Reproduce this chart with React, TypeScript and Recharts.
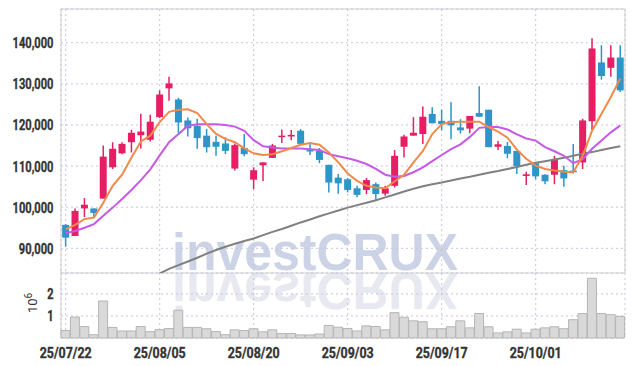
import React from "react";
import { ComposedChart, Bar, Line, XAxis, YAxis, CartesianGrid } from "recharts";

const dates = [
  "25/07/22", "25/07/23", "25/07/24", "25/07/25", "25/07/28", "25/07/29", "25/07/30", "25/07/31",
  "25/08/01", "25/08/04", "25/08/05", "25/08/06", "25/08/07", "25/08/08", "25/08/11", "25/08/12",
  "25/08/13", "25/08/14", "25/08/18", "25/08/19", "25/08/20", "25/08/21", "25/08/22", "25/08/25",
  "25/08/26", "25/08/27", "25/08/28", "25/08/29", "25/09/01", "25/09/02", "25/09/03", "25/09/04",
  "25/09/05", "25/09/08", "25/09/09", "25/09/10", "25/09/11", "25/09/12", "25/09/15", "25/09/16",
  "25/09/17", "25/09/18", "25/09/19", "25/09/22", "25/09/23", "25/09/24", "25/09/25", "25/09/26",
  "25/09/29", "25/09/30", "25/10/01", "25/10/02", "25/10/10", "25/10/13", "25/10/14", "25/10/15",
  "25/10/16", "25/10/17", "25/10/20", "25/10/21",
];

const openP = [
  95700, 93000, 99700, 99700, 102100, 109700, 113100, 115800, 117500, 116400,
  121900, 128900, 126200, 121100, 119800, 117400, 115900, 115500, 109400, 114400,
  106700, 110200, 112000, 117200, 117200, 118600, 113900, 113700, 110300, 107200,
  106800, 104600, 104200, 105600, 103300, 105200, 114700, 117400, 117800, 122700,
  121000, 121000, 119400, 119100, 122900, 123700, 114700, 114900, 113700, 107600,
  110700, 107900, 107900, 109000, 108900, 110900, 120900, 135200, 133900, 136400,
];
const closeP = [
  92600, 99100, 100600, 98600, 112300, 114200, 115400, 118100, 118400, 120800,
  127400, 130100, 120600, 119200, 116800, 114600, 114700, 113700, 115100, 112900,
  109000, 110900, 115000, 117400, 117600, 115400, 113700, 111500, 106000, 105800,
  104200, 103000, 106600, 103200, 104600, 112500, 117200, 118100, 122000, 120400,
  120200, 119900, 118700, 122200, 122000, 114600, 115300, 113000, 110000, 108000,
  107500, 106300, 111500, 107000, 108500, 121100, 138600, 131900, 136400, 128400,
];
const highP = [
  95900, 99700, 102200, 99700, 115000, 115800, 115800, 118800, 122700, 122500,
  128400, 131700, 126600, 121800, 121500, 119000, 117400, 117000, 115500, 117800,
  109700, 110900, 115400, 118900, 118800, 119000, 115800, 114400, 110300, 108100,
  107100, 105200, 107100, 106000, 105200, 113900, 117600, 121900, 124500, 124300,
  123700, 125500, 121400, 122200, 129400, 123700, 116100, 115900, 113700, 108600,
  110700, 108000, 112500, 110100, 115400, 121500, 141100, 139400, 139400, 139400,
];
const lowP = [
  90400, 93000, 97600, 97500, 102100, 109300, 112900, 113300, 114300, 116000,
  121700, 125900, 118000, 117200, 114200, 113300, 112500, 112900, 108900, 112400,
  104400, 106400, 112000, 115600, 116300, 115400, 112700, 110700, 103600, 103300,
  103600, 102400, 103200, 101800, 102800, 104800, 112100, 117400, 115400, 120400,
  118700, 116500, 117900, 118000, 122000, 114600, 113900, 111900, 108100, 105400,
  106800, 105600, 105600, 105000, 108200, 109300, 118700, 131000, 131700, 128000,
];

const ma5 = [
  94600, 95700, 97100, 97500, 101100, 105200, 107900, 112100, 116000, 117400,
  120700, 123200, 123700, 123800, 122900, 120200, 117800, 116600, 115800, 114300,
  113100, 112700, 112900, 113600, 114400, 115200, 115600, 115200, 113300, 110900,
  108200, 106400, 105200, 104800, 104600, 106300, 107900, 110900, 113700, 117800,
  120200, 120700, 120800, 120800, 120800, 119500, 118400, 116900, 114000, 111800,
  110100, 109300, 108900, 108600, 108500, 112500, 118600, 122700, 126800, 131300,
];
const ma20 = [
  93700, 94200, 95000, 95900, 97900, 99900, 102000, 104200, 106600, 109200,
  112600, 115800, 117800, 119800, 120200, 120200, 120200, 120000, 119600, 118600,
  116300, 114800, 114500, 114300, 114300, 114300, 114100, 113900, 112900, 112400,
  111900, 111300, 110500, 109300, 107900, 107400, 107600, 108500, 109700, 111200,
  112700, 114100, 115300, 117100, 119300, 119500, 119500, 118900, 117700, 116700,
  116200, 114600, 113600, 112500, 110700, 111700, 114200, 116200, 118200, 119900,
];
const ma60 = [
  null, null, null, null, null, null, null, null, null, null,
  83900, 85000, 85900, 86800, 87700, 88700, 89600, 90400, 91100, 91800,
  92400, 93200, 94000, 94700, 95500, 96300, 97000, 97800, 98500, 99200,
  99900, 100500, 101100, 101700, 102400, 103100, 103800, 104500, 105100, 105600,
  106000, 106500, 107000, 107400, 107900, 108400, 108800, 109300, 109800, 110300,
  110800, 111200, 111600, 112000, 112500, 113000, 113400, 113900, 114400, 114800,
];

const volumeM = [
  0.34, 0.95, 0.52, 0.15, 1.68, 0.48, 0.32, 0.32, 0.52, 0.29,
  0.38, 0.43, 1.26, 0.48, 0.48, 0.42, 0.29, 0.15, 0.37, 0.34,
  0.42, 0.28, 0.37, 0.2, 0.2, 0.14, 0.14, 0.18, 0.57, 0.49,
  0.43, 0.32, 0.55, 0.52, 0.37, 1.15, 0.94, 0.78, 0.74, 0.42,
  0.42, 0.51, 0.78, 0.46, 1.11, 0.51, 0.23, 0.28, 0.4, 0.23,
  0.4, 0.46, 0.51, 0.42, 0.83, 1.11, 2.71, 1.11, 1.06, 0.98,
];

const priceTicks = [90000, 100000, 110000, 120000, 130000, 140000];
const volumeTicks = [1000000, 2000000];

const rows = dates.map((d, i) => ({
  date: d,
  open: openP[i],
  close: closeP[i],
  high: highP[i],
  low: lowP[i],
  range: [lowP[i], highP[i]],
  ma5: ma5[i],
  ma20: ma20[i],
  ma60: ma60[i],
  volume: volumeM[i] * 1000000,
}));

const UP = "#e61e64";
const DOWN = "#2e95c8";
const GRID = "#c6c6dc";
const BORDER = "#d0d0d0";
const FONT = "Roboto, 'DejaVu Sans', sans-serif";

// condensed look: squeeze the glyphs to the width the reference uses
function labelWidth(s: string) {
  let w = 0;
  for (const ch of s) w += /[0-9]/.test(ch) ? 6.3 : 3.2;
  return w;
}

function YTick(props: any) {
  const { y, payload, fmt } = props;
  const s = fmt(payload.value);
  return (
    <text x={53.5} y={y} dy={5.5} textAnchor="end" fontFamily={FONT} fontSize={15} fontWeight={700}
      fill="#333" stroke="#333" strokeWidth={0.35} textLength={labelWidth(s)} lengthAdjust="spacingAndGlyphs">
      {s}
    </text>
  );
}

function XTick(props: any) {
  const { x, y, payload } = props;
  const s = String(payload.value);
  return (
    <text x={x} y={y} dy={12} textAnchor="middle" fontFamily={FONT} fontSize={15} fontWeight={700}
      fill="#333" stroke="#333" strokeWidth={0.35} textLength={52} lengthAdjust="spacingAndGlyphs">
      {s}
    </text>
  );
}

function Candle(props: any) {
  const { x, y, width, height, payload } = props;
  if (x == null || y == null) return null;
  const top = Math.min(y, y + height);
  const h = Math.abs(height);
  const { open, close, high, low } = payload;
  const span = high - low || 1;
  const py = (v: number) => top + ((high - v) / span) * h;
  const color = close >= open ? UP : DOWN;
  const bTop = py(Math.max(open, close));
  const bBot = py(Math.min(open, close));
  const cx = x + width / 2;
  return (
    <g>
      <line x1={cx} x2={cx} y1={top} y2={top + h} stroke={color} strokeWidth={1.5} />
      <rect x={x} y={bTop} width={width} height={Math.max(bBot - bTop, 1.5)} fill={color} />
    </g>
  );
}

const priceFmt = (v: number) => v.toLocaleString("en-US");
const volFmt = (v: number) => String(v / 1000000);

export default function App() {
  return (
    <div style={{ position: "absolute", left: 0, top: 0, width: 634, height: 366, background: "#fff" }}>
      <svg width={634} height={366} style={{ position: "absolute", left: 0, top: 0 }}>
        <text x={172} y={270} fontFamily="'Liberation Sans', Arial, sans-serif" fontWeight={700} fontSize={51}
          fill="#cdd3e6" textLength={286} lengthAdjust="spacingAndGlyphs">
          investCRUX
        </text>
        <text x={172} y={270} transform="translate(0, 543) scale(1, -1)" fontFamily="'Liberation Sans', Arial, sans-serif"
          fontWeight={700} fontSize={51} fill="#e7e8f0" textLength={286} lengthAdjust="spacingAndGlyphs">
          investCRUX
        </text>
        <line x1={61} x2={625} y1={9} y2={9} stroke={BORDER} />
        <line x1={625} x2={625} y1={9} y2={273} stroke={BORDER} />
        <line x1={61} x2={61} y1={9} y2={338} stroke={BORDER} />
        <line x1={61} x2={625} y1={273} y2={273} stroke={BORDER} />
        <text transform="translate(37, 313) rotate(-90)" fontFamily={FONT} fontSize={13} fill="#333">
          10<tspan dy={-5} fontSize={10}>6</tspan>
        </text>
      </svg>

      <div style={{ position: "absolute", left: 0, top: 0 }}>
        <ComposedChart width={634} height={273} data={rows} margin={{ top: 9, right: 9, bottom: 0, left: 0 }} barCategoryGap="12%">
          <CartesianGrid stroke={GRID} strokeDasharray="2 3" />
          <XAxis dataKey="date" hide interval={9} />
          <YAxis
            width={61}
            domain={[84000, 148200]}
            allowDataOverflow
            ticks={priceTicks}
            interval={0}
            tick={<YTick fmt={priceFmt} />}
            axisLine={false}
            tickLine={false}
          />
          <Line dataKey="ma60" stroke="#808080" strokeWidth={2} dot={false} isAnimationActive={false} />
          <Line dataKey="ma20" stroke="#c65ae6" strokeWidth={2} dot={false} isAnimationActive={false} />
          <Line dataKey="ma5" stroke="#ef8a4c" strokeWidth={2} dot={false} isAnimationActive={false} />
          <Bar dataKey="range" shape={<Candle />} isAnimationActive={false} />
        </ComposedChart>
      </div>

      <div style={{ position: "absolute", left: 0, top: 273 }}>
        <ComposedChart width={634} height={93} data={rows} margin={{ top: 0, right: 9, bottom: 0, left: 0 }} barCategoryGap={0}>
          <CartesianGrid stroke={GRID} strokeDasharray="2 3" />
          <XAxis dataKey="date" interval={9} tick={<XTick />} axisLine={false} tickLine={false} height={28} />
          <YAxis
            width={61}
            domain={[0, 2950000]}
            ticks={volumeTicks}
            interval={0}
            tick={<YTick fmt={volFmt} />}
            axisLine={false}
            tickLine={false}
          />
          <Bar dataKey="volume" fill="#d9d9d9" stroke="#b5b5b5" strokeWidth={1} isAnimationActive={false} />
        </ComposedChart>
      </div>
    </div>
  );
}
